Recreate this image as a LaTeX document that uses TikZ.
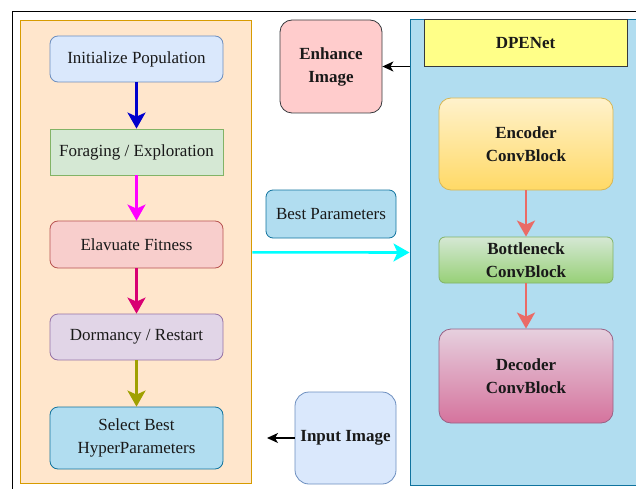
\documentclass[tikz,border=0pt]{standalone}
\usepackage{fontspec}
\setmainfont{Liberation Serif}
\usetikzlibrary{arrows.meta}

\definecolor{gaFill}{HTML}{FFE6CC}
\definecolor{gaLine}{HTML}{D79B00}
\definecolor{netFill}{HTML}{B1DDF0}
\definecolor{netLine}{HTML}{10739E}
\definecolor{bluFill}{HTML}{DAE8FC}
\definecolor{bluLine}{HTML}{6C8EBF}
\definecolor{grnFill}{HTML}{D5E8D4}
\definecolor{grnLine}{HTML}{82B366}
\definecolor{redFill}{HTML}{F8CECC}
\definecolor{redLine}{HTML}{B85450}
\definecolor{purFill}{HTML}{E1D5E7}
\definecolor{purLine}{HTML}{9673A6}
\definecolor{pinkFill}{HTML}{FFCCCC}
\definecolor{darkLine}{HTML}{36393D}
\definecolor{yelFill}{HTML}{FFFF88}
\definecolor{encTop}{HTML}{FFF2CC}
\definecolor{encBot}{HTML}{FFD966}
\definecolor{encLine}{HTML}{D6B656}
\definecolor{botBot}{HTML}{97D077}
\definecolor{decTop}{HTML}{E6D0DE}
\definecolor{decBot}{HTML}{D5739D}
\definecolor{decLine}{HTML}{996185}
\definecolor{arBlue}{HTML}{0000CC}
\definecolor{arMag}{HTML}{FF00FF}
\definecolor{arCrim}{HTML}{D80073}
\definecolor{arOlive}{HTML}{A0A000}
\definecolor{arRed}{HTML}{EA6B66}
\definecolor{arCyan}{HTML}{00FFFF}

\begin{document}
\begin{tikzpicture}
      [
        x=1pt, y=-1pt,
        every node/.style={align=center, font=\fontsize{17}{23}\selectfont, text=black!90},
        panel/.style={draw, line width=1pt, inner sep=0pt},
        step box/.style={draw, line width=0.8pt, rounded corners=8pt,
          minimum width=173pt, minimum height=46pt, inner sep=0pt},
        side box/.style={draw, line width=0.8pt, rounded corners=12pt, inner sep=0pt},
        conv box/.style={draw, line width=0.8pt, rounded corners=12pt,
          minimum width=174pt, inner sep=0pt, font=\fontsize{17}{23}\selectfont\bfseries},
        flow/.style={line width=2.6pt, -{Stealth[length=16pt, width=18pt, inset=4pt]}},
        thin flow/.style={line width=1.3pt, -{Stealth[length=11pt, width=10pt, inset=3pt]}}
      ]
      \useasboundingbox (0,0) rectangle (636,489);
      % outer frame
      \draw[line width=1.5pt] (12.5,11.5) rectangle (700,560);

      % search side
      \node[panel, fill=gaFill, draw=gaLine, minimum width=231pt, minimum height=463pt] (ga) at (136.4,252.3) {};
      \node[step box, fill=bluFill, draw=bluLine] (init) at (136.5,59) {Initialize Population};
      \node[step box, rounded corners=0pt, fill=grnFill, draw=grnLine] (forage) at (136.5,152) {Foraging / Exploration};
      \node[step box, fill=redFill, draw=redLine, minimum height=47pt] (fitness) at (136.5,244.5) {Elavuate Fitness};
      \node[step box, fill=purFill, draw=purLine] (dormancy) at (136.5,337) {Dormancy / Restart};
      \node[step box, fill=netFill, draw=netLine, minimum height=62pt] (select) at (136.5,438) {Select Best\\HyperParameters};

      \draw[flow, arBlue] (init) -- (forage);
      \draw[flow, arMag] (forage) -- (fitness);
      \draw[flow, arCrim] (fitness) -- (dormancy);
      \draw[flow, arOlive] (dormancy) -- (select);

      % network side
      \node[panel, fill=netFill, draw=netLine, minimum width=232pt, minimum height=465pt] (net) at (526,252.5) {};
      \node[panel, fill=yelFill, draw=darkLine, minimum width=203pt, minimum height=47pt, font=\fontsize{17}{23}\selectfont\bfseries] (dpenet) at (525.5,43.5) {DPENet};
      \node[conv box, minimum height=92pt, top color=encTop, bottom color=encBot, draw=encLine] (encoder) at (526,144) {Encoder\\ConvBlock};
      \node[conv box, rounded corners=6pt, minimum height=46pt, top color=grnFill, bottom color=botBot, draw=grnLine] (bottleneck) at (526,260) {Bottleneck\\ConvBlock};
      \node[conv box, minimum height=94pt, top color=decTop, bottom color=decBot, draw=decLine] (decoder) at (526,376) {Decoder\\ConvBlock};

      \draw[flow, arRed] (encoder) -- (bottleneck);
      \draw[flow, arRed] (bottleneck) -- (decoder);

      % in between
      \node[side box, fill=pinkFill, draw=darkLine, minimum width=102pt, minimum height=93pt, font=\fontsize{17}{23}\selectfont\bfseries] (enhance) at (331,66.5) {Enhance\\Image};
      \node[side box, rounded corners=7pt, fill=netFill, draw=netLine, minimum width=130pt, minimum height=48pt] (bestpar) at (331,214) {Best Parameters};
      \node[side box, rounded corners=14pt, fill=bluFill, draw=bluLine, minimum width=101pt, minimum height=92pt, font=\fontsize{17}{23}\selectfont\bfseries] (input) at (345.5,438) {Input Image};
      \coordinate (inputEnd) at (267,438);

      \draw[flow, arCyan] (ga.east) -- (net.west);
      \draw[thin flow] (enhance.east -| net.west) -- (enhance.east);
      \draw[thin flow] (input.west) -- (inputEnd);
\end{tikzpicture}
\end{document}
